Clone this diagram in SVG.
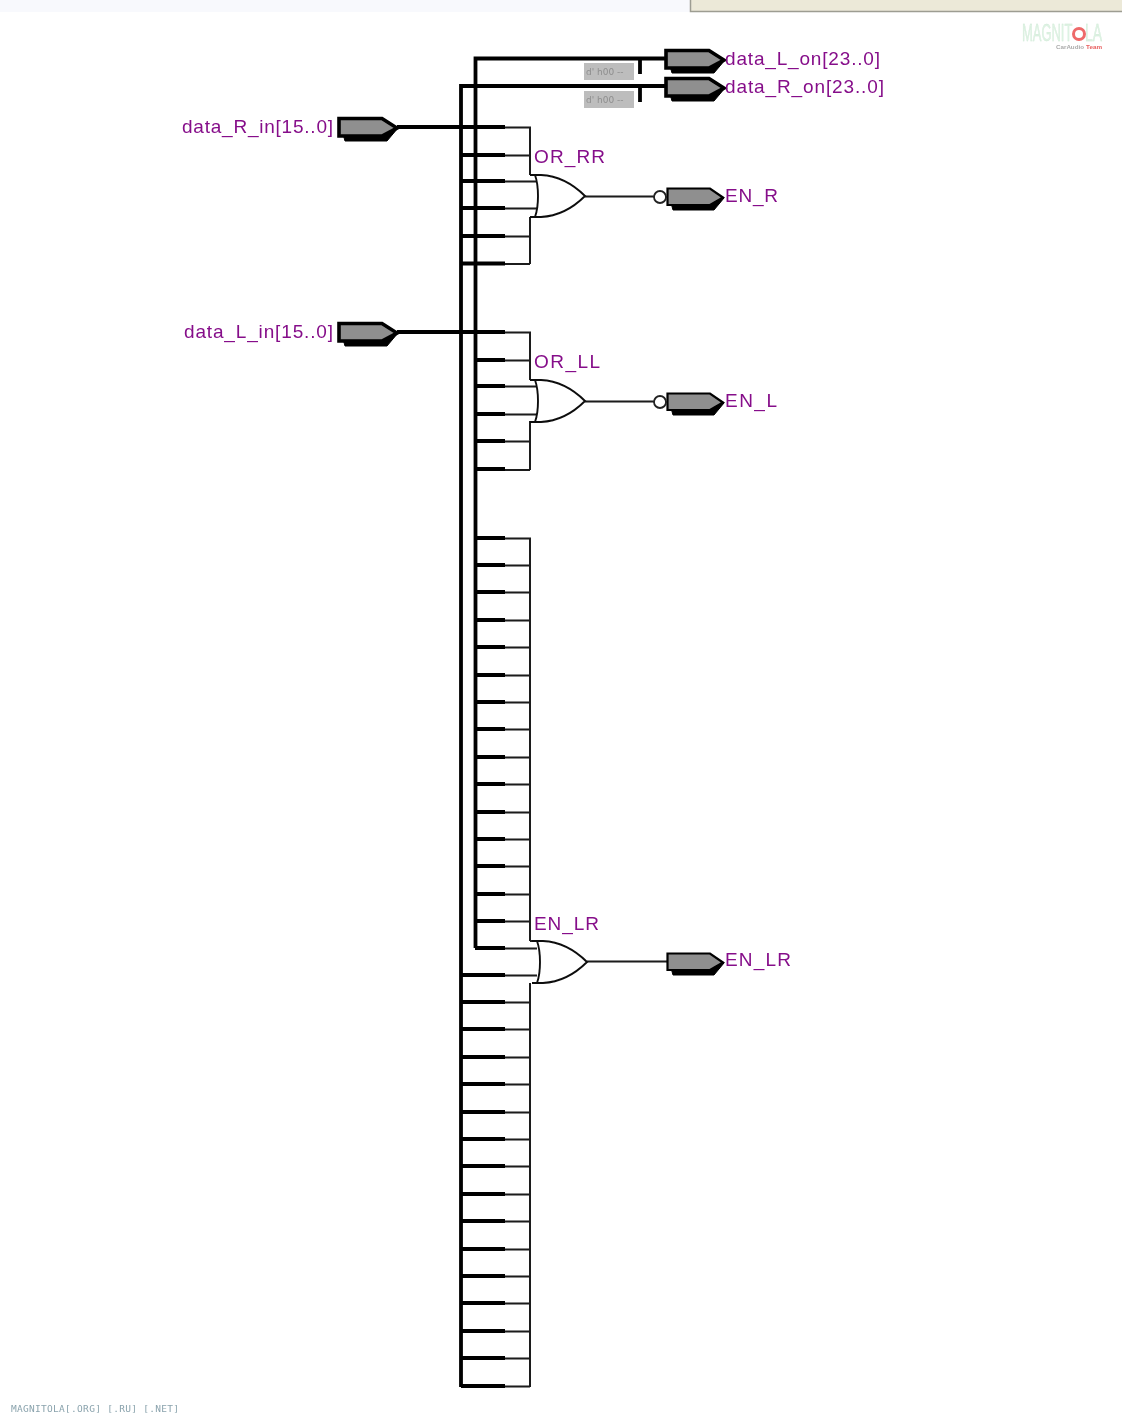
<svg xmlns="http://www.w3.org/2000/svg" width="1122" height="1418" viewBox="0 0 1122 1418">
<style>
.bus{fill:none;stroke:#000;stroke-width:3.8}
.wire{fill:none;stroke:#1a1a1a;stroke-width:2}
.gate{fill:none;stroke:#111;stroke-width:1.9}
.pinb{fill:#000;stroke:#000;stroke-width:1}
.pin{fill:#8f8f8f;stroke:#000;stroke-width:3.600}
.pint{fill:#8f8f8f;stroke:#000;stroke-width:2.200}
.lbl{font-family:"Liberation Sans",Arial,sans-serif;font-size:19px;fill:#86108a}
.box{fill:#bdbdbd}
.boxt{font-family:"DejaVu Sans",sans-serif;font-size:9px;fill:#8e8e8e}
.logo{font-family:"Liberation Sans",Arial,sans-serif;font-size:24px;fill:#dff3e4;stroke:#cfe9d6;stroke-width:.4}
.logos{font-family:"Liberation Sans",Arial,sans-serif;font-size:6px;font-weight:bold}
</style>
<defs>
<filter id="soft" x="0" y="0" width="100%" height="100%"><feGaussianBlur stdDeviation="0.45"/></filter>
<g id="pinBus"><path class="pinb" d="M6,18H46L61,12 50,25H8Z"/><path class="pin" d="M2,2.500H45L60,12 45,20H2Z"/></g>
<g id="pinThin"><path class="pinb" d="M5,16H46L58,11 48,23H7Z"/><path class="pint" d="M1.500,1.500H44L57,10.500 44,18H1.500Z"/></g>
<path id="orShape" class="gate" d="M530,-21H541C560,-20 574,-11 585,0 574,11 560,20 541,21H530M535,-21C539,-10 539,10 535,21"/>
</defs>

<g filter="url(#soft)">
<g id="window-chrome">
<rect x="0" y="0" width="690" height="12" fill="#f8f9fd"/>
<rect x="690" y="0" width="432" height="11" fill="#ece9d8"/>
<path d="M690.500,0V11.500H1122" fill="none" stroke="#9d9d92" stroke-width="1.500"/>
</g>

<g id="logo">
<text class="logo" transform="translate(1022,41) scale(.54,1)">MAGNIT</text>
<text class="logo" transform="translate(1085,41) scale(.58,1)">LA</text>
<circle cx="1079" cy="34" r="5.500" fill="none" stroke="#ee6a6a" stroke-width="3"/>
<text class="logos" x="1056" y="49" fill="#aaa" textLength="28" lengthAdjust="spacingAndGlyphs">CarAudio</text>
<text class="logos" x="1086" y="49" fill="#e86060" textLength="16" lengthAdjust="spacingAndGlyphs">Team</text>
</g>

<g id="connectors">
<path class="bus" d="M461,1387V86H665M475.500,948V58.500H665M640,58V74M640,86V102"/>
<path class="bus" d="M397,127H505M461,155H505M461,181H505M461,208H505M461,236H505M461,263.500H505"/>
<path class="bus" d="M397,332H505M475,360H505M475,386H505M475,414H505M475,441H505M475,469H505"/>
<path class="bus" d="M475,538H505M475,565H505M475,592H505M475,620H505M475,647H505M475,675H505M475,702H505M475,729H505M475,757H505M475,784H505M475,812H505M475,839H505M475,866H505M475,894H505M475,921H505M475,948H505"/>
<path class="bus" d="M461,975H505M461,1002H505M461,1029H505M461,1057H505M461,1084H505M461,1112H505M461,1139H505M461,1166H505M461,1194H505M461,1221H505M461,1249H505M461,1276H505M461,1303H505M461,1331H505M461,1358H505M461,1386H505"/>
<path class="wire" d="M505,127.500H530V175M505,155.500H530M505,181.500H537M505,208.500H537M530,217V264M505,236.500H530M505,264H530"/>
<path class="wire" d="M505,332.500H530V380M505,360.500H530M505,386.500H537M505,414.500H537M530,421V470M505,441.500H530M505,470H530"/>
<path class="wire" d="M505,538.500H530V941M505,565.500H530M505,592.500H530M505,620.500H530M505,647.500H530M505,675.500H530M505,702.500H530M505,729.500H530M505,757.500H530M505,784.500H530M505,812.500H530M505,839.500H530M505,866.500H530M505,894.500H530M505,921.500H530M505,948.500H537"/>
<path class="wire" d="M505,975.500H537M530,983V1387M505,1002.500H530M505,1029.500H530M505,1057.500H530M505,1084.500H530M505,1112.500H530M505,1139.500H530M505,1166.500H530M505,1194.500H530M505,1221.500H530M505,1249.500H530M505,1276.500H530M505,1303.500H530M505,1331.500H530M505,1358.500H530M505,1386.500H530"/>
<path class="wire" d="M585,196.500H654M585,401.500H654M587,961.500H667"/>
</g>

<g id="data_R_in"><text class="lbl" x="182" y="133" textLength="151" lengthAdjust="spacing">data_R_in[15..0]</text><use href="#pinBus" x="337" y="116"/></g>
<g id="data_L_in"><text class="lbl" x="184" y="338" textLength="149" lengthAdjust="spacing">data_L_in[15..0]</text><use href="#pinBus" x="337" y="321"/></g>

<g id="data_L_on"><use href="#pinBus" x="664" y="48"/><text class="lbl" x="725" y="65" textLength="155" lengthAdjust="spacing">data_L_on[23..0]</text></g>
<g id="data_R_on"><use href="#pinBus" x="664" y="76"/><text class="lbl" x="725" y="93" textLength="159" lengthAdjust="spacing">data_R_on[23..0]</text></g>

<g id="default-L"><rect class="box" x="584" y="63" width="50" height="17"/><text class="boxt" x="586" y="75">d' h00 --</text></g>
<g id="default-R"><rect class="box" x="584" y="91" width="50" height="17"/><text class="boxt" x="586" y="103">d' h00 --</text></g>

<g id="OR_RR"><use href="#orShape" y="196"/><text class="lbl" x="534" y="163" textLength="71" lengthAdjust="spacing">OR_RR</text></g>
<g id="OR_LL"><use href="#orShape" y="401"/><text class="lbl" x="534" y="368" textLength="66" lengthAdjust="spacing">OR_LL</text></g>
<g id="EN_LR-gate"><use href="#orShape" x="2" y="962"/><path class="wire" d="M530,941H532"/><text class="lbl" x="534" y="930" textLength="65" lengthAdjust="spacing">EN_LR</text></g>

<g id="EN_R"><circle cx="660" cy="197" r="6" fill="#fff" stroke="#222" stroke-width="1.800"/><use href="#pinThin" x="666" y="187"/><text class="lbl" x="725" y="202" textLength="53" lengthAdjust="spacing">EN_R</text></g>
<g id="EN_L"><circle cx="660" cy="402" r="6" fill="#fff" stroke="#222" stroke-width="1.800"/><use href="#pinThin" x="666" y="392"/><text class="lbl" x="725" y="407" textLength="52" lengthAdjust="spacing">EN_L</text></g>
<g id="EN_LR"><use href="#pinThin" x="666" y="952"/><text class="lbl" x="725" y="966" textLength="66" lengthAdjust="spacing">EN_LR</text></g>

<text x="11" y="1412" font-family="'DejaVu Sans Mono','Liberation Mono',monospace" font-size="9.500" fill="#8aa3ad" textLength="168" lengthAdjust="spacing">MAGNITOLA[.ORG] [.RU] [.NET]</text>
</g>
</svg>
